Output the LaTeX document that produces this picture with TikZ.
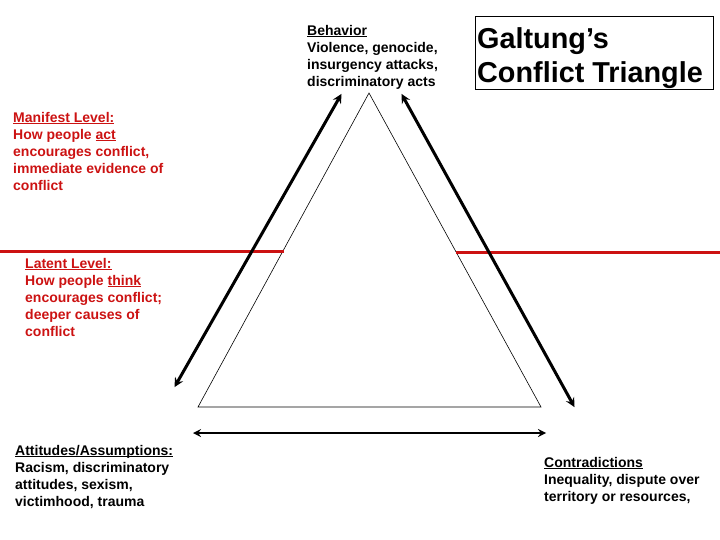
\documentclass[tikz,border=0pt]{standalone}
\usepackage{fontspec}
\setmainfont{Liberation Sans}
\usetikzlibrary{arrows,positioning,calc}
\definecolor{levelred}{RGB}{204,18,18}
\newcommand{\ulword}[1]{\setbox0\hbox{#1}\rlap{\rule[-2pt]{\wd0}{0.9pt}}\box0}

\begin{document}
\begin{tikzpicture}[
  x=1pt, y=-1pt,
  note/.style={anchor=north west, align=left, inner sep=0pt, font=\fontsize{14}{17}\selectfont\bfseries},
  rednote/.style={note, text=levelred},
  title/.style={anchor=north west, align=left, inner sep=0pt, font=\fontsize{28.8}{34}\selectfont\bfseries},
  frame/.style={draw, line width=1pt},
  side/.style={draw, line width=0.6pt},
  arrow/.style={<->, >=stealth, line width=3pt, shorten <=1pt, shorten >=1pt},
  level/.style={draw=levelred, line width=3pt}
]
  \useasboundingbox (0,0) rectangle (720,540);

  % triangle corners
  \coordinate (apex) at (369,93);
  \coordinate (bl) at (198,407);
  \coordinate (br) at (541,407);
  \draw[side] (apex) -- (bl) -- (br) -- cycle;

  % level lines
  \coordinate (ml0) at (0,251);
  \coordinate (ml1) at (284,251);
  \coordinate (mr0) at (456,252);
  \coordinate (mr1) at (720,252);
  \draw[level] (ml0) -- (ml1);
  \draw[level] (mr0) -- (mr1);

  % arrows along the sides
  \coordinate (la0) at (174,388);
  \coordinate (la1) at (342,93);
  \coordinate (ra0) at (401,93);
  \coordinate (ra1) at (575,408);
  \coordinate (ba0) at (192,433);
  \coordinate (ba1) at (547,433);
  \draw[arrow] (la0) -- (la1);
  \draw[arrow] (ra0) -- (ra1);
  \draw[arrow, line width=2.5pt] (ba0) -- (ba1);

  % title box
  \draw[frame] (475,17) rectangle (713,90);
  \node[title] (galtung) at (477,27) {Galtung’s\\Conflict Triangle};

  \node[note] (behavior) at (307,25) {\ulword{Behavior}\\Violence, genocide,\\insurgency attacks,\\discriminatory acts};
  \node[rednote] (manifest) at (13,112) {\ulword{Manifest Level:}\\How people \ulword{act}\\encourages conflict,\\immediate evidence of\\conflict};
  \node[rednote] (latent) at (25,258) {\ulword{Latent Level:}\\How people \ulword{think}\\encourages conflict;\\deeper causes of\\conflict};
  \node[note] (attitudes) at (15,445) {\ulword{Attitudes/Assumptions:}\\Racism, discriminatory\\attitudes, sexism,\\victimhood, trauma};
  \node[note] (contra) at (544,457) {\ulword{Contradictions}\\Inequality, dispute over\\territory or resources,};
\end{tikzpicture}
\end{document}
